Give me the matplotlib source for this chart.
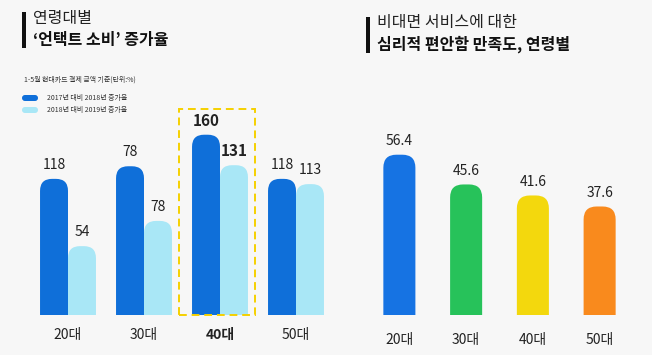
import matplotlib.pyplot as plt
from matplotlib.patches import FancyBboxPatch, Rectangle

plt.rcParams['font.family'] = ['Noto Sans CJK KR', 'DejaVu Sans']

# left chart: '언택트 소비' 증가율 by age group
ages = ['20대', '30대', '40대', '50대']
rise_2018 = [118, 130, 160, 118]        # 30대 bar is drawn ~130 high in the source
rise_2018_text = ['118', '78', '160', '118']   # printed labels
rise_2019 = [54, 78, 131, 113]
rise_2019_text = ['54', '78', '131', '113']

# right chart: 심리적 편안함 만족도
comfort = [56.4, 45.6, 41.6, 37.6]

BLUE = '#0f6fd9'
LIGHT = '#a9e7f6'
right_colors = ['#1673e3', '#27c25a', '#f3d80d', '#f98a1d']
BG = '#f7f7f7'

W, H = 652, 355
fig = plt.figure(figsize=(W / 100, H / 100), dpi=100, facecolor=BG)


def px_axes(left, top, right, bottom):
    return fig.add_axes([left / W, 1 - bottom / H, (right - left) / W, (bottom - top) / H])


def round_bar(ax, x, h, w, color, r_px):
    # bar with rounded top, bottom corners are clipped away below the axes
    p0 = ax.transData.transform((0, 0))
    p1 = ax.transData.transform((1, 1))
    xpx = p1[0] - p0[0]
    ypx = p1[1] - p0[1]
    aspect = xpx / ypx
    r = r_px / xpx
    low = ax.get_ylim()[0] - r_px * 2 / ypx
    box = FancyBboxPatch((x - w / 2, low), w, h - low,
                         boxstyle='round,pad=0,rounding_size=%f' % r,
                         mutation_aspect=aspect, fc=color, ec='none')
    ax.add_patch(box)


# ---- left chart (baseline sits a little below zero, like the source)
ax1 = px_axes(30, 120, 334, 315)
ax1.set_facecolor('none')
ax1.set_xlim(-0.5, 3.5)
ax1.set_ylim(-11.5, 174)
bw = 0.368
for i in range(len(ages)):
    round_bar(ax1, i - bw / 2, rise_2018[i], bw, BLUE, 12)
    round_bar(ax1, i + bw / 2, rise_2019[i], bw, LIGHT, 12)
    bold = 'bold' if ages[i] == '40대' else 'normal'
    fs = 11 if bold == 'bold' else 10
    ax1.annotate(rise_2018_text[i], (i - bw / 2, rise_2018[i]), xytext=(0, 10),
                 textcoords='offset points', ha='center', va='center',
                 fontsize=fs, fontweight=bold, color='#222222')
    ax1.annotate(rise_2019_text[i], (i + bw / 2, rise_2019[i]), xytext=(0, 10),
                 textcoords='offset points', ha='center', va='center',
                 fontsize=fs, fontweight=bold, color='#222222')
ax1.set_xticks(range(len(ages)))
ax1.set_xticklabels(ages, fontsize=10, color='#222222')
ax1.get_xticklabels()[2].set_fontweight('bold')
ax1.tick_params(axis='x', length=0, pad=9)
ax1.set_yticks([])
for s in ax1.spines.values():
    s.set_visible(False)
# highlight box round the 40대 group
ax1.add_patch(Rectangle((1.46, -11.5), 1.0, 196, fill=False, ec='#f5d000', lw=1.4,
                        ls=(0, (4, 2.5)), clip_on=False))

# ---- right chart
ax2 = px_axes(366, 120, 633, 315)
ax2.set_facecolor('none')
ax2.set_xlim(-0.5, 3.5)
ax2.set_ylim(-1.8, 69)
for i in range(len(ages)):
    round_bar(ax2, i, comfort[i], 0.48, right_colors[i], 13)
    ax2.annotate('%.1f' % comfort[i], (i, comfort[i]), xytext=(0, 10),
                 textcoords='offset points', ha='center', va='center',
                 fontsize=10, color='#222222')
ax2.set_xticks(range(len(ages)))
ax2.set_xticklabels(ages, fontsize=10, color='#222222')
ax2.tick_params(axis='x', length=0, pad=13)
ax2.set_yticks([])
for s in ax2.spines.values():
    s.set_visible(False)

# ---- titles, note and legend in pixel coords
ov = fig.add_axes([0, 0, 1, 1])
ov.set_xlim(0, W)
ov.set_ylim(H, 0)
ov.axis('off')
ov.set_zorder(-1)

ov.add_patch(Rectangle((22, 12), 3.5, 36, fc='#111111', ec='none'))
ov.text(33, 18, '연령대별', fontsize=11.5, color='#222222', va='center', fontweight='light')
ov.text(33, 40, '‘언택트 소비’ 증가율', fontsize=11.5, color='#111111', va='center', fontweight='bold')

ov.add_patch(Rectangle((366, 17), 3.5, 36, fc='#111111', ec='none'))
ov.text(377, 22, '비대면 서비스에 대한', fontsize=11.5, color='#222222', va='center', fontweight='light')
ov.text(377, 44, '심리적 편안함 만족도, 연령별', fontsize=11.5, color='#111111', va='center', fontweight='bold')

ov.text(24, 80, '1-5월 현대카드 결제 금액 기준(단위:%)', fontsize=5, color='#333333', va='center')
ov.add_patch(FancyBboxPatch((22, 95), 16, 6, boxstyle='round,pad=0,rounding_size=3', fc=BLUE, ec='none'))
ov.text(47, 98, '2017년 대비 2018년 증가율', fontsize=5, color='#333333', va='center')
ov.add_patch(FancyBboxPatch((22, 107), 16, 6, boxstyle='round,pad=0,rounding_size=3', fc=LIGHT, ec='none'))
ov.text(47, 110, '2018년 대비 2019년 증가율', fontsize=5, color='#333333', va='center')

fig.savefig('out.png', dpi=100, facecolor=BG)
